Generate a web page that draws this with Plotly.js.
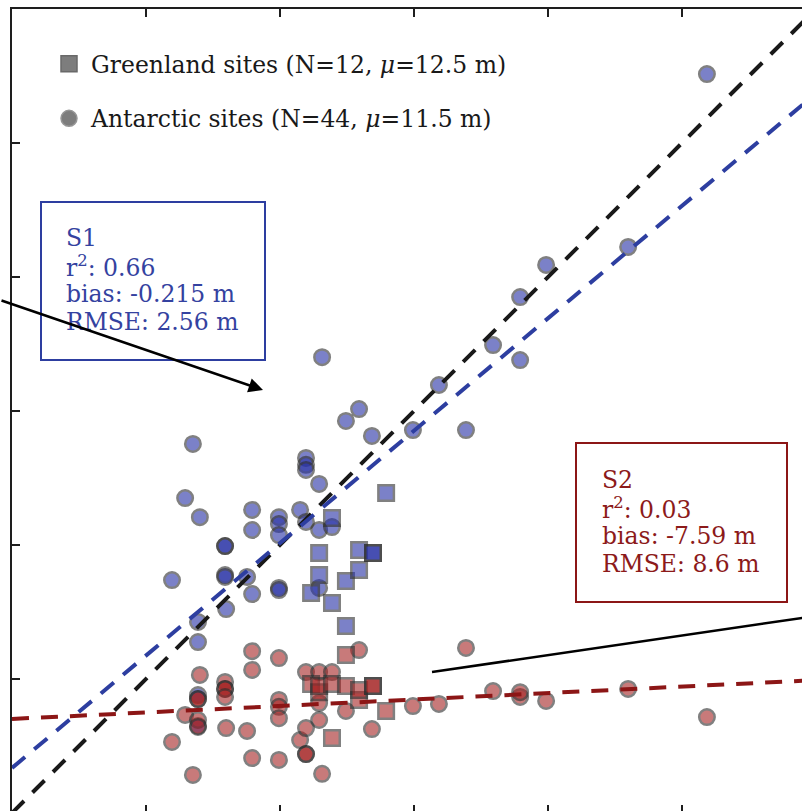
<!DOCTYPE html>
<html>
<head>
<meta charset="utf-8">
<script src="https://cdn.plot.ly/plotly-3.0.1.min.js"></script>
<style>
  html, body { margin: 0; padding: 0; overflow: hidden; background: #fff; }
  #chart { width: 830px; height: 830px; }
</style>
</head>
<body>
<div id="chart"></div>
<script>
// ---------------- data (metres) ----------------
// Antarctic sites: reference value, S1 estimate, S2 estimate
const antarcticX  = [5.97, 6.46, 6.75, 7.01, 6.94, 6.94, 6.94, 6.94, 7.95, 7.95, 7.95, 7.95, 7.99, 8.77, 8.96, 8.96, 8.96,
                     9.96, 9.96, 9.96, 9.96, 9.96, 10.75, 10.97, 10.97, 10.97, 10.97, 11.46, 11.46, 11.46, 11.57, 11.94,
                     12.46, 12.95, 13.43, 14.96, 15.93, 16.94, 17.95, 18.96, 18.96, 19.93, 22.99, 25.93];
const antarcticS1 = [8.69, 11.75, 13.77, 11.04, 7.13, 6.38, 4.40, 3.25, 9.96, 9.96, 8.88, 8.81, 7.61, 8.81, 11.31, 10.56, 8.17,
                     11.04, 10.78, 10.37, 8.40, 8.32, 11.31, 13.25, 12.99, 12.80, 10.86, 12.28, 10.56, 8.40, 17.01, 10.67,
                     14.63, 15.07, 14.07, 14.29, 15.97, 14.29, 17.46, 19.25, 16.90, 20.45, 21.12, 27.57];
const antarcticS2 = [2.65, 3.66, 1.42, 5.15, 4.25, 3.47, 4.25, 3.21, 4.89, 4.63, 4.63, 4.33, 3.17, 3.06, 6.04, 5.34, 2.05,
                     5.78, 4.22, 3.96, 3.54, 1.98, 2.72, 5.26, 2.20, 2.20, 3.17, 5.26, 3.47, 4.10, 1.46, 5.26,
                     3.81, 6.08, 3.13, 3.99, 4.07, 6.16, 4.55, 4.33, 4.51, 4.18, 4.63, 3.58];
// Greenland sites
const greenlandX  = [11.16, 11.46, 11.46, 11.94, 11.94, 12.46, 12.46, 12.95, 12.95, 13.47, 13.47, 13.96];
const greenlandS1 = [8.21, 9.70, 8.88, 11.01, 7.84, 8.66, 6.98, 9.81, 9.07, 9.70, 9.70, 11.94];
const greenlandS2 = [4.81, 4.51, 4.74, 2.80, 4.81, 4.74, 5.90, 4.22, 4.59, 4.74, 4.74, 3.81];

// linear fits
const fitNames      = ['S1', 'S2'];
const fitIntercepts = [1.68, 3.51];
const fitSlopes     = [0.839, 0.0483];
const oneToOne      = [0, 30];

// legend labels and statistics boxes
const legendLabels = ['Greenland sites (N=12, <i>μ</i>=12.5 m)', 'Antarctic sites (N=44, <i>μ</i>=11.5 m)'];
const s1Lines = ['S1', 'r<sup>2</sup>: 0.66', 'bias: -0.215 m', 'RMSE: 2.56 m'];
const s2Lines = ['S2', 'r<sup>2</sup>: 0.03', 'bias: -7.59 m', 'RMSE: 8.6 m'];

// ---------------- styling ----------------
const FONT = 'DejaVu Serif, Liberation Serif, serif';
const BLUE_FILL = 'rgb(37,47,165)';
const RED_FILL  = 'rgb(165,34,34)';
const EDGE = 'rgb(45,45,45)';
const BLUE_LINE = 'rgb(45,62,160)';
const RED_LINE  = 'rgb(140,22,22)';
const BLUE_TXT  = 'rgb(52,66,160)';
const RED_TXT   = 'rgb(140,26,26)';
const MS = 15.5;

// pixel -> data helpers for decorations (plot area: 804px for 0..30)
const PX = 804 / 30;
const pxX = p => (p - 12) / PX;
const pxY = p => (813 - p) / PX;

function pts(x, y, sym, fill) {
  return {
    type: 'scatter', mode: 'markers', x: x, y: y, showlegend: false, hoverinfo: 'skip',
    marker: { symbol: sym, size: MS, color: fill, opacity: 0.6, line: { color: EDGE, width: 2.5 } }
  };
}

const traces = [
  pts(antarcticX, antarcticS1, 'circle', BLUE_FILL),
  pts(greenlandX, greenlandS1, 'square', BLUE_FILL),
  pts(antarcticX, antarcticS2, 'circle', RED_FILL),
  pts(greenlandX, greenlandS2, 'square', RED_FILL),
];

// legend dummy entries
traces.push({ type: 'scatter', mode: 'markers', x: [null], y: [null], name: legendLabels[0], legendgroup: 'g',
  marker: { symbol: 'square', size: 16, color: 'rgb(125,125,125)', line: { color: 'rgb(105,105,105)', width: 1.5 } } });
traces.push({ type: 'scatter', mode: 'markers', x: [null], y: [null], name: legendLabels[1], legendgroup: 'a',
  marker: { symbol: 'circle', size: 16, color: 'rgb(125,125,125)', line: { color: 'rgb(150,150,150)', width: 1.5 } } });

// 1:1 line
traces.push({ type: 'scatter', mode: 'lines', x: oneToOne, y: oneToOne, showlegend: false, hoverinfo: 'skip',
  line: { color: 'rgb(25,25,25)', width: 4, dash: '17px,12px' } });
// fitted lines
const fitColors = [BLUE_LINE, RED_LINE];
fitNames.forEach((n, i) => {
  const xs = [0, 30];
  traces.push({ type: 'scatter', mode: 'lines', x: xs, y: xs.map(v => fitIntercepts[i] + fitSlopes[i] * v),
    name: n, showlegend: false, hoverinfo: 'skip',
    line: { color: fitColors[i], width: 4, dash: '17px,12px' } });
});

// annotations: stats text, one per line
const annotations = [];
function addLines(lines, xpx, firstCenterPx, color) {
  lines.forEach((t, k) => {
    annotations.push({ x: pxX(xpx), y: pxY(firstCenterPx + k * 28), xref: 'x', yref: 'y', text: t,
      showarrow: false, xanchor: 'left', yanchor: 'middle', font: { family: FONT, size: 23.5, color: color } });
  });
}
addLines(s1Lines, 64, 238, BLUE_TXT);
addLines(s2Lines, 600, 480, RED_TXT);

// S1 arrow
annotations.push({ x: pxX(263), y: pxY(390), xref: 'x', yref: 'y', text: '', showarrow: true,
  ax: -300, ay: -90, axref: 'pixel', ayref: 'pixel', arrowhead: 2, arrowsize: 1.15, arrowwidth: 2.5, arrowcolor: '#000' });

const shapes = [
  { type: 'rect', xref: 'x', yref: 'y', x0: pxX(41), x1: pxX(265), y0: pxY(202), y1: pxY(360),
    line: { color: BLUE_LINE, width: 2 }, fillcolor: 'rgba(0,0,0,0)' },
  { type: 'rect', xref: 'x', yref: 'y', x0: pxX(576), x1: pxX(787), y0: pxY(443), y1: pxY(602),
    line: { color: RED_LINE, width: 2 }, fillcolor: 'rgba(0,0,0,0)' },
  { type: 'line', xref: 'x', yref: 'y', x0: pxX(432), y0: pxY(672), x1: 30, y1: pxY(672) + (30 - pxX(432)) * 0.146,
    line: { color: '#000', width: 2.5 } },
];

const axisCommon = {
  range: [0, 30], dtick: 5, tick0: 0, ticks: 'inside', ticklen: 8, tickwidth: 2, tickcolor: 'rgb(30,30,30)',
  showline: true, linewidth: 2, linecolor: 'rgb(30,30,30)', mirror: 'ticks',
  showgrid: false, zeroline: false, showticklabels: false, fixedrange: true
};

const layout = {
  width: 830, height: 830,
  margin: { l: 12, t: 9, r: 14, b: 17, pad: 0 },
  paper_bgcolor: '#fff', plot_bgcolor: '#fff',
  xaxis: Object.assign({}, axisCommon),
  yaxis: Object.assign({}, axisCommon),
  showlegend: true,
  legend: { xref: 'paper', yref: 'paper', xanchor: 'left', yanchor: 'top',
    x: (47 - 12) / 804, y: 1 - (42 - 9) / 804, itemwidth: 34,
    font: { family: FONT, size: 23.5, color: 'rgb(25,25,25)' }, bgcolor: 'rgba(0,0,0,0)', borderwidth: 0,
    traceorder: 'grouped', tracegroupgap: 21 },
  annotations: annotations,
  shapes: shapes,
  font: { family: FONT }
};

Plotly.newPlot('chart', traces, layout, { displayModeBar: false, staticPlot: true });
</script>
</body>
</html>
